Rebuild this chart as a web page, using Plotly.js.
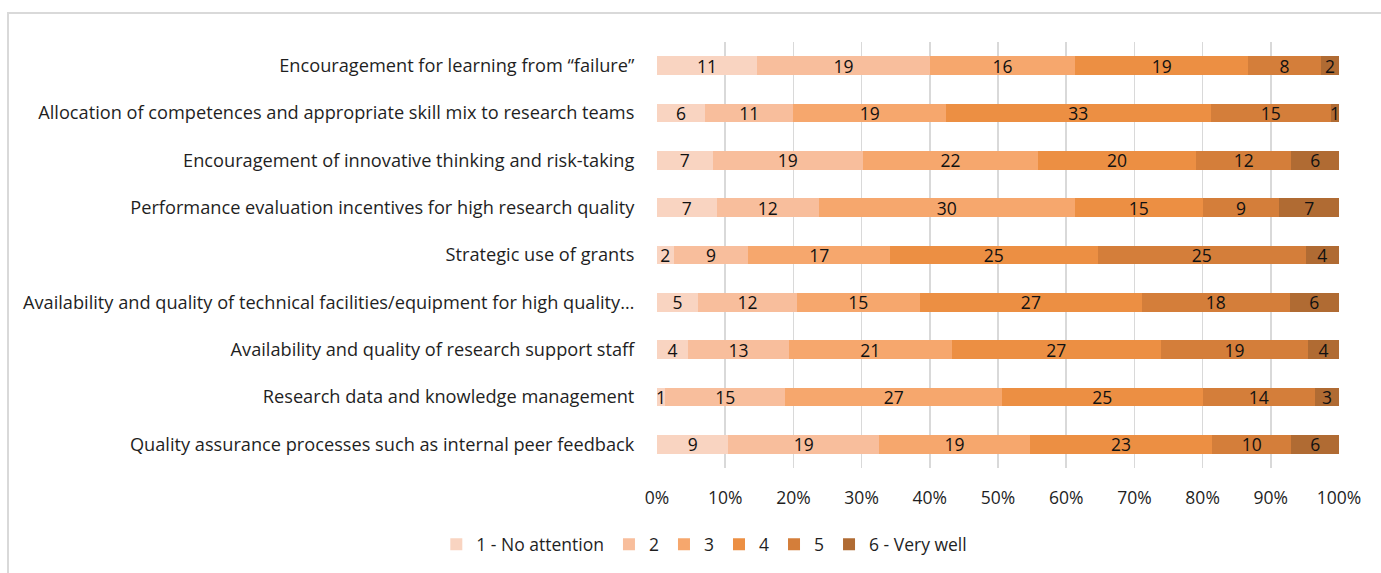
<!DOCTYPE html>
<html>
<head>
<meta charset="utf-8">
<script src="https://cdn.plot.ly/plotly-3.0.1.min.js"></script>
<style>
  html, body { margin: 0; padding: 0; background: #fff; }
  #chart { width: 1381px; height: 573px; }
  #frame { position: absolute; left: 7px; top: 12px; width: 1400px; height: 600px;
           border-left: 2px solid #d9d9d9; border-top: 2px solid #d9d9d9; pointer-events: none; }
</style>
</head>
<body>
<div id="chart"></div>
<div id="frame"></div>
<script>
const categories = [
  "Encouragement for learning from \u201cfailure\u201d",
  "Allocation of competences and appropriate skill mix to research teams",
  "Encouragement of innovative thinking and risk-taking",
  "Performance evaluation incentives for high research quality",
  "Strategic use of grants",
  "Availability and quality of technical facilities/equipment for high quality\u2026",
  "Availability and quality of research support staff",
  "Research data and knowledge management",
  "Quality assurance processes such as internal peer feedback"
];
const seriesNames = ["1 - No attention", "2", "3", "4", "5", "6 - Very well"];
const s1 = [11, 6, 7, 7, 2, 5, 4, 1, 9];
const s2 = [19, 11, 19, 12, 9, 12, 13, 15, 19];
const s3 = [16, 19, 22, 30, 17, 15, 21, 27, 19];
const s4 = [19, 33, 20, 15, 25, 27, 27, 25, 23];
const s5 = [8, 15, 12, 9, 25, 18, 19, 14, 10];
const s6 = [2, 1, 6, 7, 4, 6, 4, 3, 6];
const colors = ["#F9D4C1", "#F8BE9C", "#F6A76D", "#EC8F43", "#D47E3A", "#B06B33"];
const xTicks = [0, 10, 20, 30, 40, 50, 60, 70, 80, 90, 100];

const FONT = "Open Sans, Noto Sans, sans-serif";
const FS = 17.5;
const series = [s1, s2, s3, s4, s5, s6];
const traces = series.map((vals, i) => ({
  type: "bar",
  orientation: "h",
  name: seriesNames[i],
  x: vals,
  y: categories,
  text: vals.map(String),
  textposition: "inside",
  insidetextanchor: "middle",
  textangle: 0,
  constraintext: "none",
  textfont: { family: FONT, size: FS, color: "#111111" },
  marker: { color: colors[i], line: { width: 0 } },
  hoverinfo: "skip"
}));

const layout = {
  width: 1381, height: 573,
  barmode: "stack",
  barnorm: "percent",
  bargap: 0.6,
  paper_bgcolor: "#fff",
  plot_bgcolor: "#fff",
  font: { family: FONT, size: FS, color: "#1f1f1f" },
  margin: { l: 657, r: 42, t: 42, b: 105, pad: 0 },
  uniformtext: { mode: "show", minsize: FS },
  xaxis: {
    range: [0, 100],
    tickvals: xTicks,
    ticktext: xTicks.map(v => v + "%"),
    showgrid: true, gridcolor: "#d9d9d9", gridwidth: 1.5,
    zeroline: false, showline: false,
    ticks: "outside", ticklen: 14, tickcolor: "rgba(0,0,0,0)",
    tickfont: { family: FONT, size: FS, color: "#1f1f1f" }
  },
  yaxis: {
    type: "category",
    autorange: "reversed",
    showgrid: false, zeroline: false, showline: false,
    ticks: "outside", ticklen: 18, tickcolor: "rgba(0,0,0,0)",
    tickfont: { family: FONT, size: 18.2, color: "#1f1f1f" }
  },
  showlegend: true,
  legend: {
    orientation: "h",
    xref: "container", yref: "container",
    x: 0.51, xanchor: "center",
    y: 0.05, yanchor: "middle",
    itemwidth: 30,
    font: { family: FONT, size: FS, color: "#1f1f1f" },
    traceorder: "normal"
  }
};

Plotly.newPlot("chart", traces, layout, { displayModeBar: false, staticPlot: true });
</script>
</body>
</html>
